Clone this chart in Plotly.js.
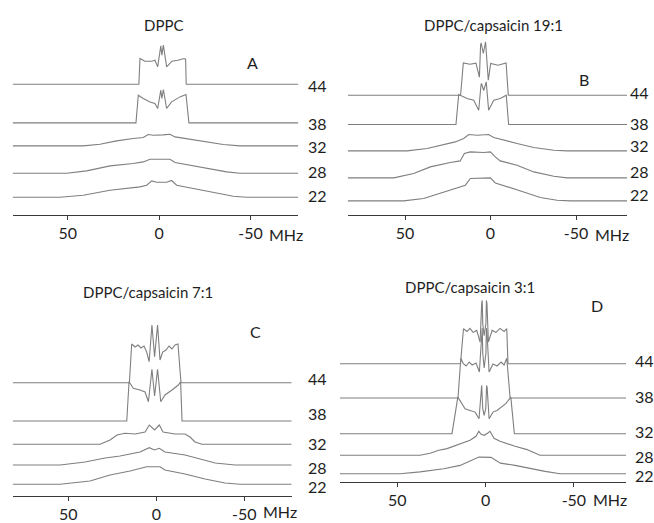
<!DOCTYPE html>
<html>
<head>
<meta charset="utf-8">
<script src="https://cdn.plot.ly/plotly-3.0.1.min.js"></script>
<style>html,body{margin:0;padding:0;background:#fff;}#chart{width:654px;height:523px;}</style>
</head>
<body>
<div id="chart"></div>
<script>
// ---------- DATA (frequency in MHz, intensity in arbitrary units) ----------
const temperatures = ['44', '38', '32', '28', '22'];
const panelTitles = ['DPPC', 'DPPC/capsaicin 19:1', 'DPPC/capsaicin 7:1', 'DPPC/capsaicin 3:1'];
const panelLetters = ['A', 'B', 'C', 'D'];
const tickValues = [50, 0, -50];
const tickLabels = ['50', '0', '-50'];
const unitLabel = 'MHz';

// Panel A: DPPC
const A44_f = [11.1, 10.5, 7.8, 4.1, 2.3, 0.8, -0.6, -0.9, -1.5, -2.0, -2.3, -4.1, -7.0, -10.3, -13.6, -14.5, -14.8];
const A44_i = [0, 25.7, 23, 23, 24, 17.3, 37, 38.3, 29, 38, 39, 17.3, 23, 24, 25.7, 25, 0];
const A38_f = [12.7, 11.4, 8.7, 5.0, 2.3, 0.8, -0.6, -0.9, -1.5, -2.0, -2.3, -4.1, -6.8, -11.4, -14.7, -16.3];
const A38_i = [0, 27.7, 24.4, 21, 19.4, 14.4, 31, 32.7, 24.4, 32, 33.4, 14.4, 21, 26, 28.4, 0];
const A32_f = [41.6, 32.4, 23.3, 14.2, 8.7, 6.0, 3.2, -2.2, -5.9, -8.7, -15.1, -26, -35.1, -44.2];
const A32_i = [0, 1.7, 5, 7.4, 8.4, 11.4, 10.7, 11, 11.7, 9, 7, 4, 1.4, 0];
const A28_f = [50.7, 39.7, 26.9, 14.2, 8.7, 5.0, -5.9, -8.7, -15.1, -26, -37, -44.2];
const A28_i = [0, 2.3, 7.3, 9.7, 11.3, 14, 14, 10.7, 8.7, 4.7, 1.3, 0];
const A22_f = [54.3, 41.6, 26.9, 10.5, 6.8, 4.1, 1.4, -4.1, -6.8, -9.6, -18.7, -29.6, -40.6, -47.9];
const A22_i = [0, 2, 7, 10.3, 12, 16.3, 15, 15, 16.7, 12, 8.7, 4.3, 1, 0];

// Panel B: DPPC/capsaicin 19:1
const B44_f = [17.5, 15.9, 12.0, 8.5, 6.5, 5.8, 5.5, 4.2, 3.2, 2.9, 1.3, -0.1, -4.4, -9.1, -10.4];
const B44_i = [0, 32.3, 31, 32, 18, 50, 52.3, 41.7, 52, 53.3, 15, 31.7, 30, 32.3, 0];
const B38_f = [20.2, 18.6, 13.7, 9.8, 6.9, 5.6, 5.3, 4.0, 2.8, 2.5, 1.1, -1.9, -5.7, -9.2, -10.6];
const B38_i = [0, 30, 26, 24.3, 14.3, 39, 41, 34, 41, 42.6, 14.3, 24.3, 26, 29.3, 0];
const B32_f = [48.8, 37.1, 27.4, 20.6, 15.7, 12.7, 7.9, 1.1, -1.9, -7.7, -15.5, -25.3, -37, -44.7];
const B32_i = [0, 2.4, 6.7, 9, 12.4, 16.4, 15.7, 16.4, 13.4, 10.7, 7.4, 3.4, 0.7, 0];
const B28_f = [56.6, 44.9, 35.2, 23.5, 17.7, 15.3, 11.8, 4.0, 0.1, -2.8, -5.7, -15.5, -25.3, -37, -44.7];
const B28_i = [0, 4.4, 11, 15.4, 17, 24.4, 26, 25.4, 26, 21, 17, 12.7, 6, 1.7, 0];
const B22_f = [50.8, 39.1, 29.4, 19.6, 14.7, 11.8, 0.1, -2.8, -9.6, -19.4, -29.1, -38.9, -46.7];
const B22_i = [0, 2.4, 8, 13, 15.7, 22.4, 23, 18, 14, 9, 3.4, 0.7, 0];

// Panel C: DPPC/capsaicin 7:1
const C44_f = [15.3, 14.0, 12.1, 10.4, 8.7, 7.0, 5.5, 4.1, 2.8, 2.5, 1.0, -0.4, -0.7, -2.1, -3.6, -5.5, -7.2, -8.9, -10.6, -12.3, -14.0];
const C44_i = [0, 38.7, 35.7, 37.7, 34.7, 36.7, 30.7, 21, 55, 57.7, 26, 55, 57.7, 22.7, 30.7, 32.7, 36.7, 33.7, 37.7, 38.7, 0];
const C38_f = [16.8, 15.5, 13.1, 9.3, 6.4, 4.5, 2.8, 2.5, 1.0, -0.4, -0.7, -2.5, -4.9, -8.9, -12.5, -13.8, -14.6];
const C38_i = [0, 39.3, 32.7, 31, 29, 19.3, 49, 51.7, 25, 49, 51.7, 19.3, 26, 31, 36, 39.3, 0];
const C32_f = [32.0, 26.3, 22.3, 17.8, 12.1, 6.4, 4.0, 1.0, -1.7, -3.8, -10.6, -16.3, -19.1, -22.0, -26.0];
const C32_i = [0, 4.3, 9.3, 11, 10.3, 12.3, 19.3, 14.3, 19.3, 12.3, 10.3, 10.3, 7.3, 2.3, 0];
const C28_f = [54.7, 40.5, 29.1, 20.6, 9.3, 4.0, 1.1, -1.7, -4.9, -16.3, -24.8, -33.4, -44.7];
const C28_i = [0, 3, 7, 9, 13, 17.3, 15, 16.7, 13, 10, 6, 2, 0];
const C22_f = [54.7, 37.7, 26.3, 14.9, 5.5, -2.1, -4.9, -16.3, -27.7, -39.0, -47.6];
const C22_i = [0, 3.3, 9.3, 13.3, 17.6, 17.6, 14.3, 10.3, 5.3, 1.3, 0];

// Panel D: DPPC/capsaicin 3:1
const D44_f = [14.2, 12.5, 10.5, 8.8, 7.1, 5.0, 3.1, 2.2, 1.9, 1.6, 0.8, -0.2, -0.5, -0.8, -1.6, -3.7, -5.9, -8.2, -10.5, -12.0, -12.7];
const D44_i = [0, 35, 32.3, 35.3, 31.3, 33.3, 21.6, 60, 63.3, 40, 28, 40, 63.3, 60, 21.6, 33.3, 31.3, 35.3, 32.3, 35, 0];
const D38_f = [15.6, 14.0, 12.7, 11.0, 9.3, 7.6, 5.4, 3.5, 2.2, 1.9, 1.6, 0.8, -0.2, -0.5, -0.8, -2.0, -4.2, -6.5, -8.8, -10.5, -12.0, -13.9];
const D38_i = [0, 39.7, 34.7, 32, 36, 33, 35, 26, 66, 70, 45, 30, 45, 70, 66, 26, 34, 32, 36, 33, 39.7, 0];
const D32_f = [19.0, 15.7, 13.3, 11.6, 8.8, 5.9, 3.7, 2.5, 2.2, 1.6, 0.8, -0.1, -0.6, -0.9, -2.0, -4.2, -6.5, -9.3, -11.6, -14.3, -16.3];
const D32_i = [0, 36.6, 30.3, 25, 23.3, 21.6, 15, 46, 48.3, 25, 18.3, 25, 48.3, 46, 15, 21.6, 23.3, 27.3, 30.3, 36.6, 0];
const D28_f = [37.1, 31.4, 26.5, 21.8, 14.4, 8.8, 5.4, 3.8, 2.5, 0.8, -1.1, -2.5, -4.8, -8.2, -16.7, -23.5, -26.9, -30.8];
const D28_i = [0, 2, 5, 6.7, 11, 15, 19, 24, 21, 20, 22, 24, 17, 14, 9, 5.7, 3, 0];
const D22_f = [48.4, 37.1, 23.7, 14.4, 10.5, 3.8, -3.1, -8.4, -16.7, -25.4, -33.7, -42.2];
const D22_i = [0, 1.8, 5, 8.3, 11.6, 16.6, 16.3, 10.6, 8.3, 5, 2.3, 0];

// ---------- LAYOUT CONFIG ----------
const W = 654, H = 523;
const px2x = p => p / W;
const px2y = p => 1 - p / H;
const panels = [
  { spectra: [[A44_f, A44_i], [A38_f, A38_i], [A32_f, A32_i], [A28_f, A28_i], [A22_f, A22_i]],
    xpx: [12.7, 298.3], ypx: [34.5, 214.5], range: [80.2, -76.2],
    offsets: [130.3, 91.6, 68.6, 41.3, 17.3], labelX: 306, labelY: [85, 123, 147, 171, 195],
    unitY: 234, title: [163, 25], letter: [252, 62] },
  { spectra: [[B44_f, B44_i], [B38_f, B38_i], [B32_f, B32_i], [B28_f, B28_i], [B22_f, B22_i]],
    xpx: [347.7, 627], ypx: [34.5, 214.5], range: [83.5, -79.8],
    offsets: [119.3, 90, 63.6, 36.6, 13.6], labelX: 628, labelY: [92, 123, 146, 171, 194],
    unitY: 234, title: [494, 25], letter: [584, 80] },
  { spectra: [[C44_f, C44_i], [C38_f, C38_i], [C32_f, C32_i], [C28_f, C28_i], [C22_f, C22_i]],
    xpx: [12.7, 291.7], ypx: [316, 496], range: [81.6, -76.9],
    offsets: [113.3, 75, 51.7, 31, 11.7], labelX: 306, labelY: [378, 413, 443, 467, 487],
    unitY: 511, title: [148, 292], letter: [255, 331] },
  { spectra: [[D44_f, D44_i], [D38_f, D38_i], [D32_f, D32_i], [D28_f, D28_i], [D22_f, D22_i]],
    xpx: [340, 626], ypx: [296, 482], range: [82.4, -79.5],
    offsets: [118.3, 84, 48.3, 26.7, 8.3], labelX: 633, labelY: [360, 396, 431.7, 456.7, 475],
    unitY: 499, title: [470, 287], letter: [597, 305] }
];

const FONT = 'Lato, "Open Sans", sans-serif';
const TXT = '#1e1e1e';
const traces = [];
const annotations = [];
const layout = {
  width: W, height: H,
  margin: { l: 0, r: 0, t: 0, b: 0 },
  paper_bgcolor: '#ffffff', plot_bgcolor: 'rgba(0,0,0,0)',
  showlegend: false,
  font: { family: FONT, color: TXT, size: 16 },
  annotations: annotations
};

panels.forEach((p, k) => {
  const n = k + 1;
  const xa = 'x' + (n === 1 ? '' : n), ya = 'y' + (n === 1 ? '' : n);
  const xkey = 'xaxis' + (n === 1 ? '' : n), ykey = 'yaxis' + (n === 1 ? '' : n);
  const hgt = p.ypx[1] - p.ypx[0];
  layout[xkey] = {
    domain: [px2x(p.xpx[0]), px2x(p.xpx[1])],
    anchor: ya, range: p.range, showgrid: false, zeroline: false,
    showline: true, linecolor: '#3a3a3a', linewidth: 1.2,
    ticks: 'outside', ticklen: 4, tickwidth: 1, tickcolor: '#3a3a3a',
    tickmode: 'array', tickvals: tickValues, ticktext: tickLabels,
    tickfont: { family: FONT, size: 16, color: TXT }, fixedrange: true
  };
  layout[ykey] = {
    domain: [px2y(p.ypx[1]), px2y(p.ypx[0])],
    anchor: xa, range: [0, hgt], visible: false, fixedrange: true
  };
  p.spectra.forEach((s, j) => {
    const off = p.offsets[j];
    const xs = [p.range[0]].concat(s[0], [p.range[1]]);
    const ys = [0].concat(s[1], [0]).map(v => v + off);
    traces.push({
      type: 'scatter', mode: 'lines', x: xs, y: ys, xaxis: xa, yaxis: ya,
      line: { color: '#7f7f7f', width: 1.1 }, hoverinfo: 'skip', cliponaxis: false
    });
    annotations.push({
      xref: 'paper', yref: 'paper', x: px2x(p.labelX), y: px2y(p.labelY[j]),
      xanchor: 'left', yanchor: 'middle', showarrow: false, text: temperatures[j],
      font: { family: FONT, size: 16, color: TXT }
    });
  });
  annotations.push({
    xref: xa, yref: 'paper', x: -50, y: px2y(p.unitY), xanchor: 'left', yanchor: 'middle',
    xshift: 17, showarrow: false, text: unitLabel, font: { family: FONT, size: 16, color: TXT }
  });
  annotations.push({
    xref: 'paper', yref: 'paper', x: px2x(p.title[0]), y: px2y(p.title[1]),
    xanchor: 'center', yanchor: 'middle', showarrow: false, text: panelTitles[k],
    font: { family: FONT, size: 15, color: TXT }
  });
  annotations.push({
    xref: 'paper', yref: 'paper', x: px2x(p.letter[0]), y: px2y(p.letter[1]),
    xanchor: 'center', yanchor: 'middle', showarrow: false, text: panelLetters[k],
    font: { family: FONT, size: 16, color: TXT }
  });
});

Plotly.newPlot('chart', traces, layout, { displayModeBar: false, staticPlot: true });
</script>
</body>
</html>
